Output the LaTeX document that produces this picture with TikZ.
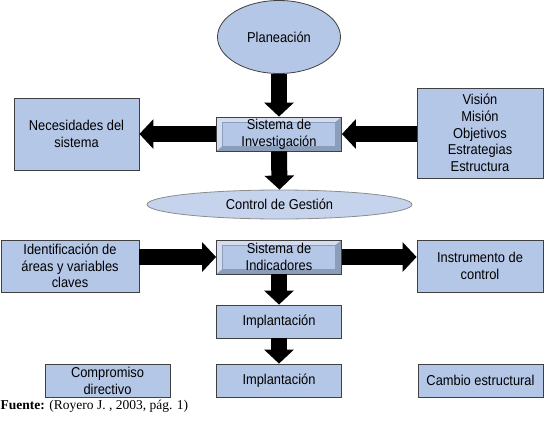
\documentclass[tikz,border=0pt]{standalone}
\usepackage{fontspec}
\setmainfont{Liberation Serif}
\setsansfont{Liberation Sans}[FakeStretch=0.9]
\usetikzlibrary{positioning,arrows.meta,shapes.geometric}
\definecolor{boxFill}{HTML}{B4C7E7}
\definecolor{boxLine}{HTML}{404040}
\definecolor{bevelLight}{HTML}{D3DDEF}
\definecolor{bevelDark}{HTML}{8C9DBA}
\definecolor{ovalFill}{HTML}{C5D3EC}

\begin{document}
\begin{tikzpicture}[
  x=1pt, y=-1pt,
  font=\sffamily\fontsize{14.3}{16.8}\selectfont,
  plainBox/.style={
    rectangle,
    draw=boxLine, line width=0.8pt,
    fill=boxFill,
    align=center,
    inner sep=0pt,
    minimum width=125pt,
    minimum height=34pt
  },
  bevelBox/.style={
    plainBox,
    path picture={
      \fill[bevelLight] (path picture bounding box.north west) rectangle (path picture bounding box.south east);
      \fill[bevelDark] (path picture bounding box.south west) -- (path picture bounding box.south east)
        -- (path picture bounding box.north east) -- ([shift={(-6pt,-5pt)}]path picture bounding box.north east)
        -- ([shift={(-6pt,5pt)}]path picture bounding box.south east) -- ([shift={(6pt,5pt)}]path picture bounding box.south west) -- cycle;
      \draw[fill=boxFill, draw=bevelDark, line width=0.5pt] ([shift={(6pt,-5pt)}]path picture bounding box.north west)
        rectangle ([shift={(-6pt,5pt)}]path picture bounding box.south east);
    }
  },
  oval/.style={
    ellipse,
    draw=boxLine, line width=0.8pt,
    fill=boxFill,
    inner sep=0pt
  },
  blockArrow/.style={
    -{Triangle[length=14pt,width=29pt]},
    line width=16pt,
    draw=black
  }
]

\useasboundingbox (0,0) rectangle (550,421);

% top of the chain
\node[oval, minimum width=123pt, minimum height=73pt] (plan) at (279,37) {Planeación};
\node[bevelBox] (sisInv) at (279,134) {Sistema de\\Investigación};
\node[plainBox, minimum height=72pt] (necesidades) at (76.5,134) {Necesidades del\\sistema};
\node[plainBox, minimum width=126pt, minimum height=90pt] (vision) at (480,133) {Visión\\Misión\\Objetivos\\Estrategias\\Estructura};

% control
\node[oval, draw=boxLine!60, fill=ovalFill, minimum width=265pt, minimum height=29pt] (control) at (279.5,204.5) {Control de Gestión};

% indicators row
\node[bevelBox] (sisInd) at (279,257) {Sistema de\\Indicadores};
\node[plainBox, minimum width=138pt, minimum height=52pt] (identif) at (70,266) {Identificación de\\áreas y variables\\claves};
\node[plainBox, minimum width=126pt, minimum height=52pt] (instrum) at (480,266) {Instrumento de\\control};

% bottom
\node[plainBox, minimum height=33pt] (impl1) at (279,321.5) {Implantación};
\node[plainBox, minimum height=33pt] (impl2) at (279,380.5) {Implantación};
\node[plainBox, minimum height=33pt] (compromiso) at (107.5,380.5) {Compromiso\\directivo};
\node[plainBox, minimum height=33pt] (cambio) at (480.5,380.5) {Cambio estructural};

% source line
\node[anchor=west, inner sep=0pt, font=\rmfamily\fontsize{13.5}{15}\selectfont] (fuente) at (0.5,406) {\textbf{Fuente:} (Royero J. , 2003, pág. 1)};

% arrows
\draw[blockArrow] (plan.south) -- (sisInv.north);
\draw[blockArrow] (sisInv.west) -- (necesidades.east |- sisInv.west);
\draw[blockArrow] (vision.west |- sisInv.east) -- (sisInv.east);
\draw[blockArrow] (sisInv.south) -- (control.north);
\draw[blockArrow] (identif.east |- sisInd.west) -- (sisInd.west);
\draw[blockArrow] (sisInd.east) -- (instrum.west |- sisInd.east);
\draw[blockArrow] (sisInd.south) -- (impl1.north);
\draw[blockArrow] (impl1.south) -- (impl2.north);

\end{tikzpicture}
\end{document}
